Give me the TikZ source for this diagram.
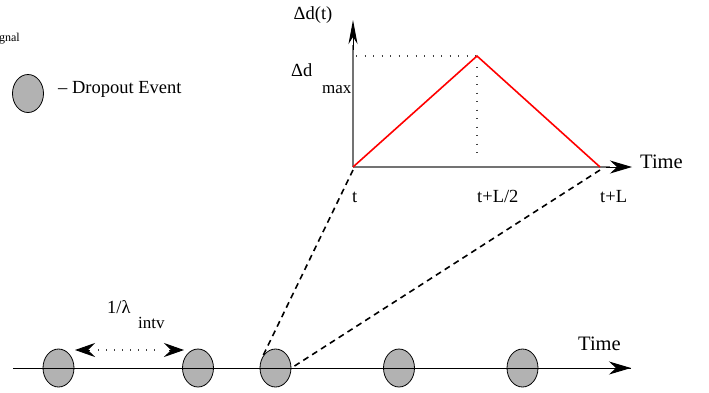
\documentclass[tikz,border=0pt]{standalone}
\usepackage{fontspec}
\setmainfont{Liberation Serif}
\usetikzlibrary{arrows.meta,shapes.geometric}
\begin{document}
\begin{tikzpicture}[x=1pt,y=-1pt,
  lbl/.style={inner sep=0pt,font=\fontsize{18.5}{20}\selectfont},
  sub/.style={inner sep=0pt,font=\fontsize{17}{19}\selectfont},
  timelbl/.style={inner sep=0pt,font=\fontsize{20.5}{22}\selectfont},
  event/.style={ellipse,draw=black,fill=black!30,line width=0.8pt,minimum width=31pt,minimum height=38pt,inner sep=0pt},
  tipH/.style={-{Stealth[length=22pt,width=13pt,inset=7pt]}},
  axis/.style={draw=black!55,line width=1.4pt},
  dotline/.style={draw=black!75,line width=2.6pt,dash pattern=on 1pt off 7.5pt},
  dashline/.style={line width=1.6pt,dash pattern=on 6pt off 4.5pt}]
\useasboundingbox (0,0) rectangle (709,392);
% legend
\node[inner sep=0pt,font=\fontsize{12}{13}\selectfont,anchor=base east] (sig) at (20,41) {gnal};
\node[event] (leg) at (28,93.5) {};
\node[lbl,anchor=base west] (legt) at (58,93) {-- Dropout Event};
% plot
\coordinate (O) at (353,167);
\coordinate (Ytop) at (353,20);
\coordinate (P) at (477,56);
\coordinate (E) at (600,167);
\coordinate (Xend) at (632,167);
\coordinate (Pdot) at (356,56);
\coordinate (Pv) at (477,67);
\coordinate (Pb) at (477,160);
\draw[axis] (O) -- (E);
\draw[axis] (O) -- (353,45);
\draw[axis] (E) -- (610,167);
\draw[line width=1pt,-{Stealth[length=24pt,width=9pt,inset=7pt]}] (353,50) -- (Ytop);
\draw[line width=1pt,tipH] (606,167) -- (Xend);
\draw[dotline] (Pdot) -- (P);
\draw[dotline] (Pv) -- (Pb);
\draw[red,line width=1.6pt] (O) -- (P) -- (E);
\node[lbl,anchor=base] (dlt) at (313,19) {Δd(t)};
\node[lbl,anchor=base west] (dmax) at (291,76) {Δd};
\node[sub,anchor=base west] (mx) at (322,93) {max};
\node[lbl,anchor=base west] (lt) at (352,202) {t};
\node[lbl,anchor=base west] (lt2) at (477,202) {t+L/2};
\node[lbl,anchor=base west] (ltl) at (600,202) {t+L};
\node[timelbl,anchor=base west] (tm1) at (640,168) {Time};
% time line
\coordinate (L0) at (13,368);
\coordinate (L1) at (631,368);
\draw[line width=1pt] (L0) -- (610,368);
\draw[line width=1pt,tipH] (606,368) -- (L1);
\node[event] (e1) at (58.5,368) {};
\node[event] (e2) at (198,368) {};
\node[event] (e3) at (275.5,368) {};
\node[event] (e4) at (399,368) {};
\node[event] (e5) at (522.5,368) {};
\draw[line width=1pt] (L0) -- (L1);
\node[timelbl,anchor=base west] (tm2) at (578,350) {Time};
% interval arrow
\coordinate (A0) at (75,350);
\coordinate (A1) at (184,350);
\draw[draw=black!75,line width=1.6pt,dash pattern=on 1pt off 7pt] (98,350) -- (162,350);
\draw[line width=1pt,-{Stealth[length=20pt,width=14pt,inset=7pt]}] (90,350) -- (A0);
\draw[line width=1pt,-{Stealth[length=20pt,width=14pt,inset=7pt]}] (169,350) -- (A1);
\node[lbl,anchor=base west] (lam) at (107,313) {1/λ};
\node[sub,anchor=base west] (intv) at (138,328) {intv};
% zoom lines
\coordinate (Os) at (353,170);
\coordinate (Es) at (600,170);
\draw[dashline] (Os) -- (e3.140);
\draw[dashline] (Es) -- (e3.east);
\end{tikzpicture}
\end{document}
